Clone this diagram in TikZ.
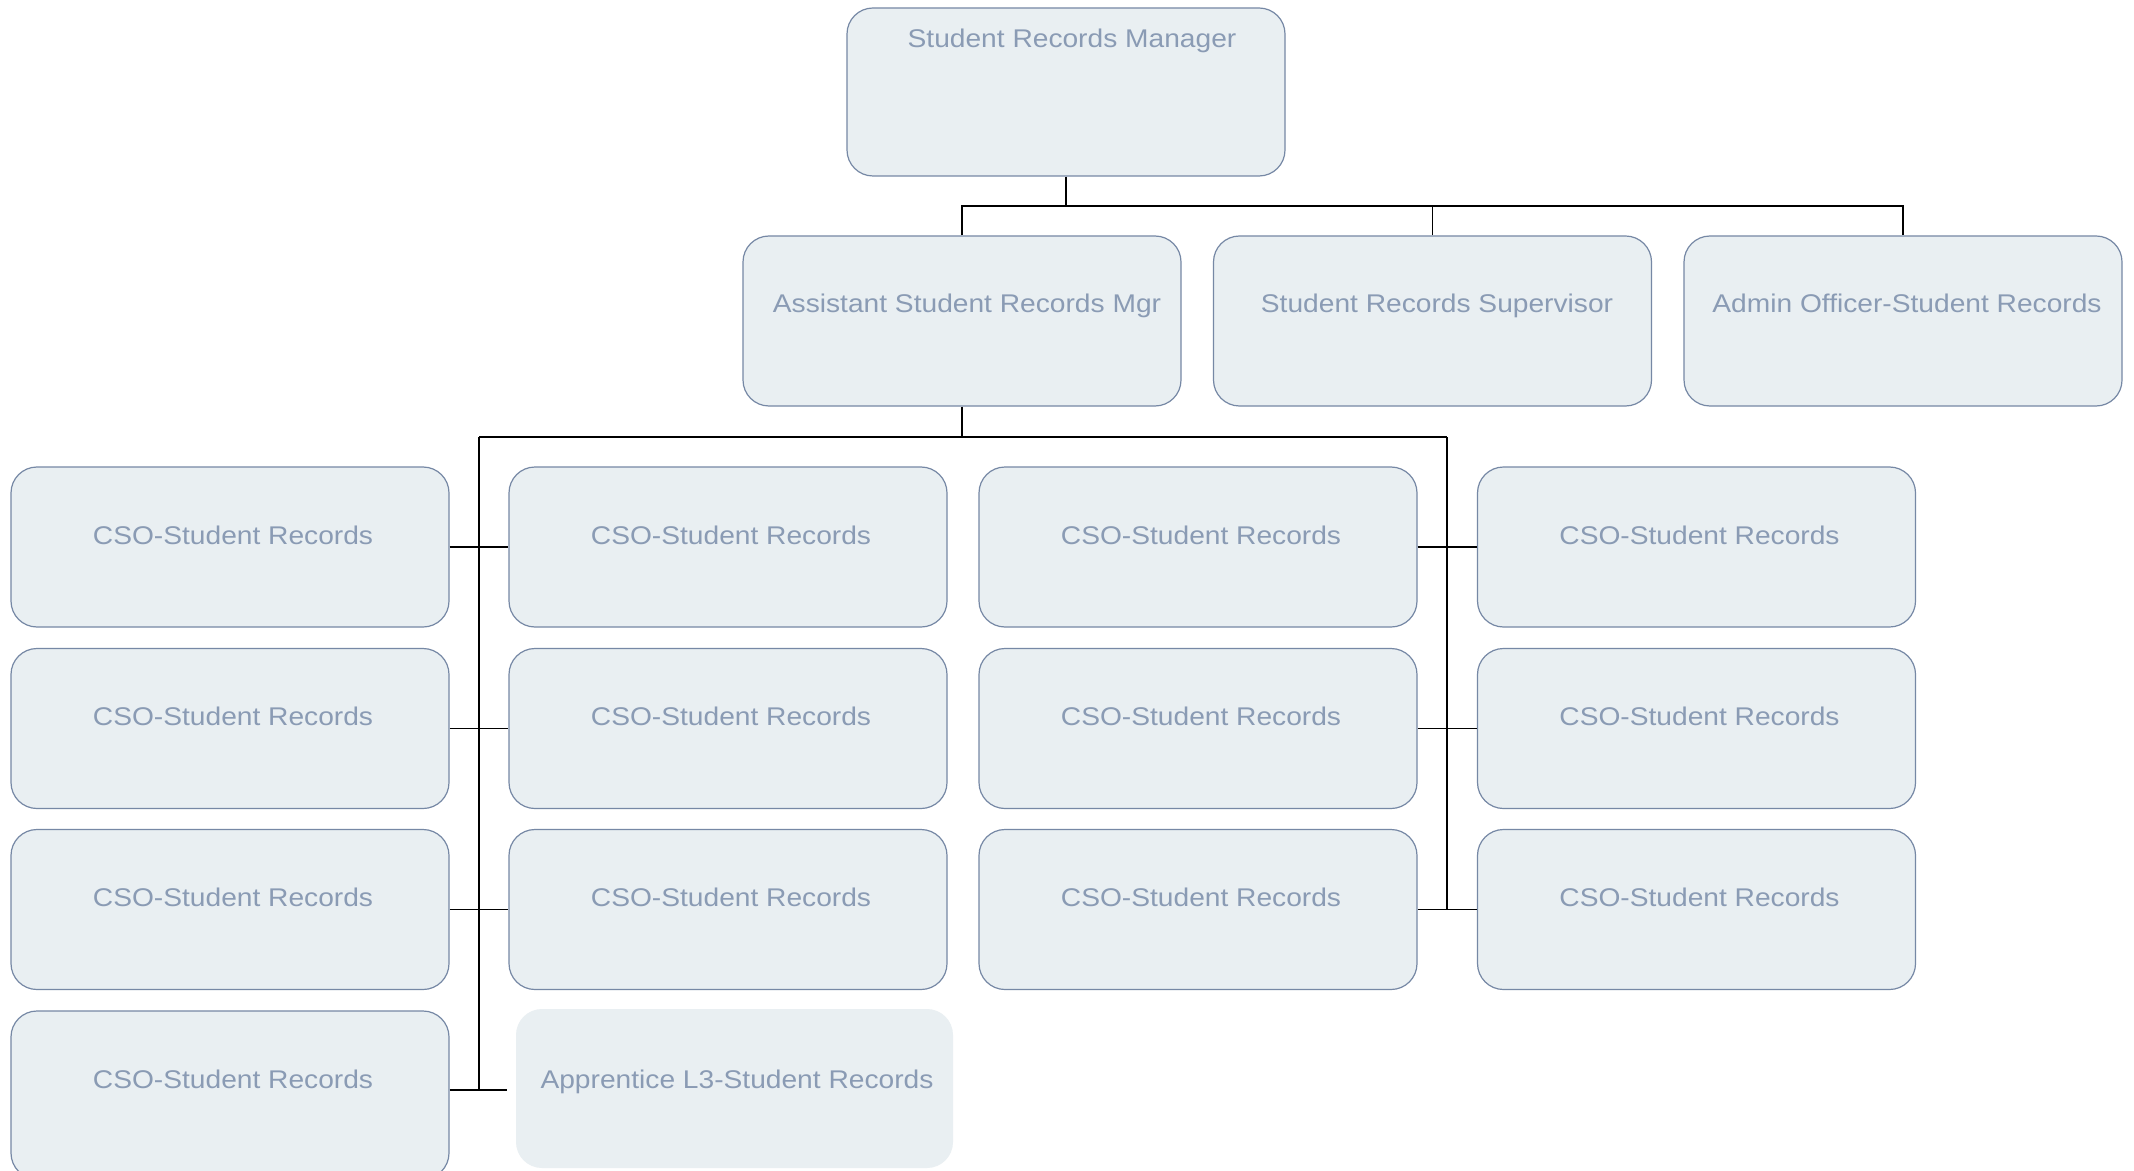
\documentclass[tikz,border=0pt]{standalone}
\usepackage{fontspec}
\setmainfont[FakeStretch=1.1]{Liberation Sans}
\definecolor{boxfill}{HTML}{E9EFF2}
\definecolor{boxline}{HTML}{7688A5}
\definecolor{txtcol}{HTML}{8A9BB4}
\begin{document}
\begin{tikzpicture}[x=0.5pt,y=-0.5pt,
  box/.style={draw=boxline, line width=0.6pt, fill=boxfill, rounded corners=13pt,
              minimum width=219pt, minimum height=80pt, inner sep=0pt},
  tallbox/.style={box, minimum height=85pt},
  plainbox/.style={box, draw=none},
  txt/.style={text=txtcol, font=\fontsize{12.8}{15}\selectfont, anchor=base, inner sep=0pt},
  conn/.style={draw=black, line width=0.6pt}]
\useasboundingbox (0,0) rectangle (2134,1171);
\fill[white] (0,0) rectangle (2134,1171);

% top level
\node[box, minimum height=84pt] (top) at (1066,92) {};
\node[txt] (topt) at (1072,47.5) {Student Records Manager};

% second level
\node[tallbox] (asst) at (962,321) {};
\node[tallbox] (sup)  at (1432.5,321) {};
\node[tallbox] (adm)  at (1903,321) {};
\node[txt] (asstt) at (967,312.5) {Assistant Student Records Mgr};
\node[txt] (supt)  at (1437,312.5) {Student Records Supervisor};
\node[txt] (admt)  at (1907,312.5) {Admin Officer-Student Records};

% CSO grid
\foreach \c/\x in {1/230,2/728,3/1198,4/1696.5}{
  \foreach \r/\y in {1/547,2/728.5,3/909.5}{
    \node[box] (c\c\r) at (\x,\y) {};
    \node[txt] (c\c\r t) at (\x+3,\y-3) {CSO-Student Records};
  }
}
\node[box, minimum height=84pt] (c14) at (230,1095) {};
\node[txt] (c14t) at (233,1088) {CSO-Student Records};
\node[plainbox, minimum width=218.5pt, minimum height=79.5pt] (app) at (734.5,1088.5) {};
\node[txt] (appt) at (737,1088) {Apprentice L3-Student Records};

% connectors level 1
\coordinate (j1) at (1066,206);
\draw[conn] (top.south) -- (j1);
\draw[conn] (asst.north) -- (asst.north |- j1) -- (adm.north |- j1) -- (adm.north);
\draw[conn] (sup.north) -- (sup.north |- j1);

% connectors level 2
\coordinate (j2) at (962,437);
\coordinate (lb) at (479,437);
\coordinate (rb) at (1447,437);
\coordinate (append) at (507,1090);
\draw[conn] (asst.south) -- (j2);
\draw[conn] (lb) -- (rb);
\draw[conn] (lb) -- (lb |- append);
\draw[conn] (rb) -- (rb |- c33.center);
\foreach \r in {1,2,3}{
  \draw[conn] (c1\r.east) -- (c2\r.west);
  \draw[conn] (c3\r.east) -- (c4\r.west);
}
\draw[conn] (c14.east |- append) -- (append);
\end{tikzpicture}
\end{document}
